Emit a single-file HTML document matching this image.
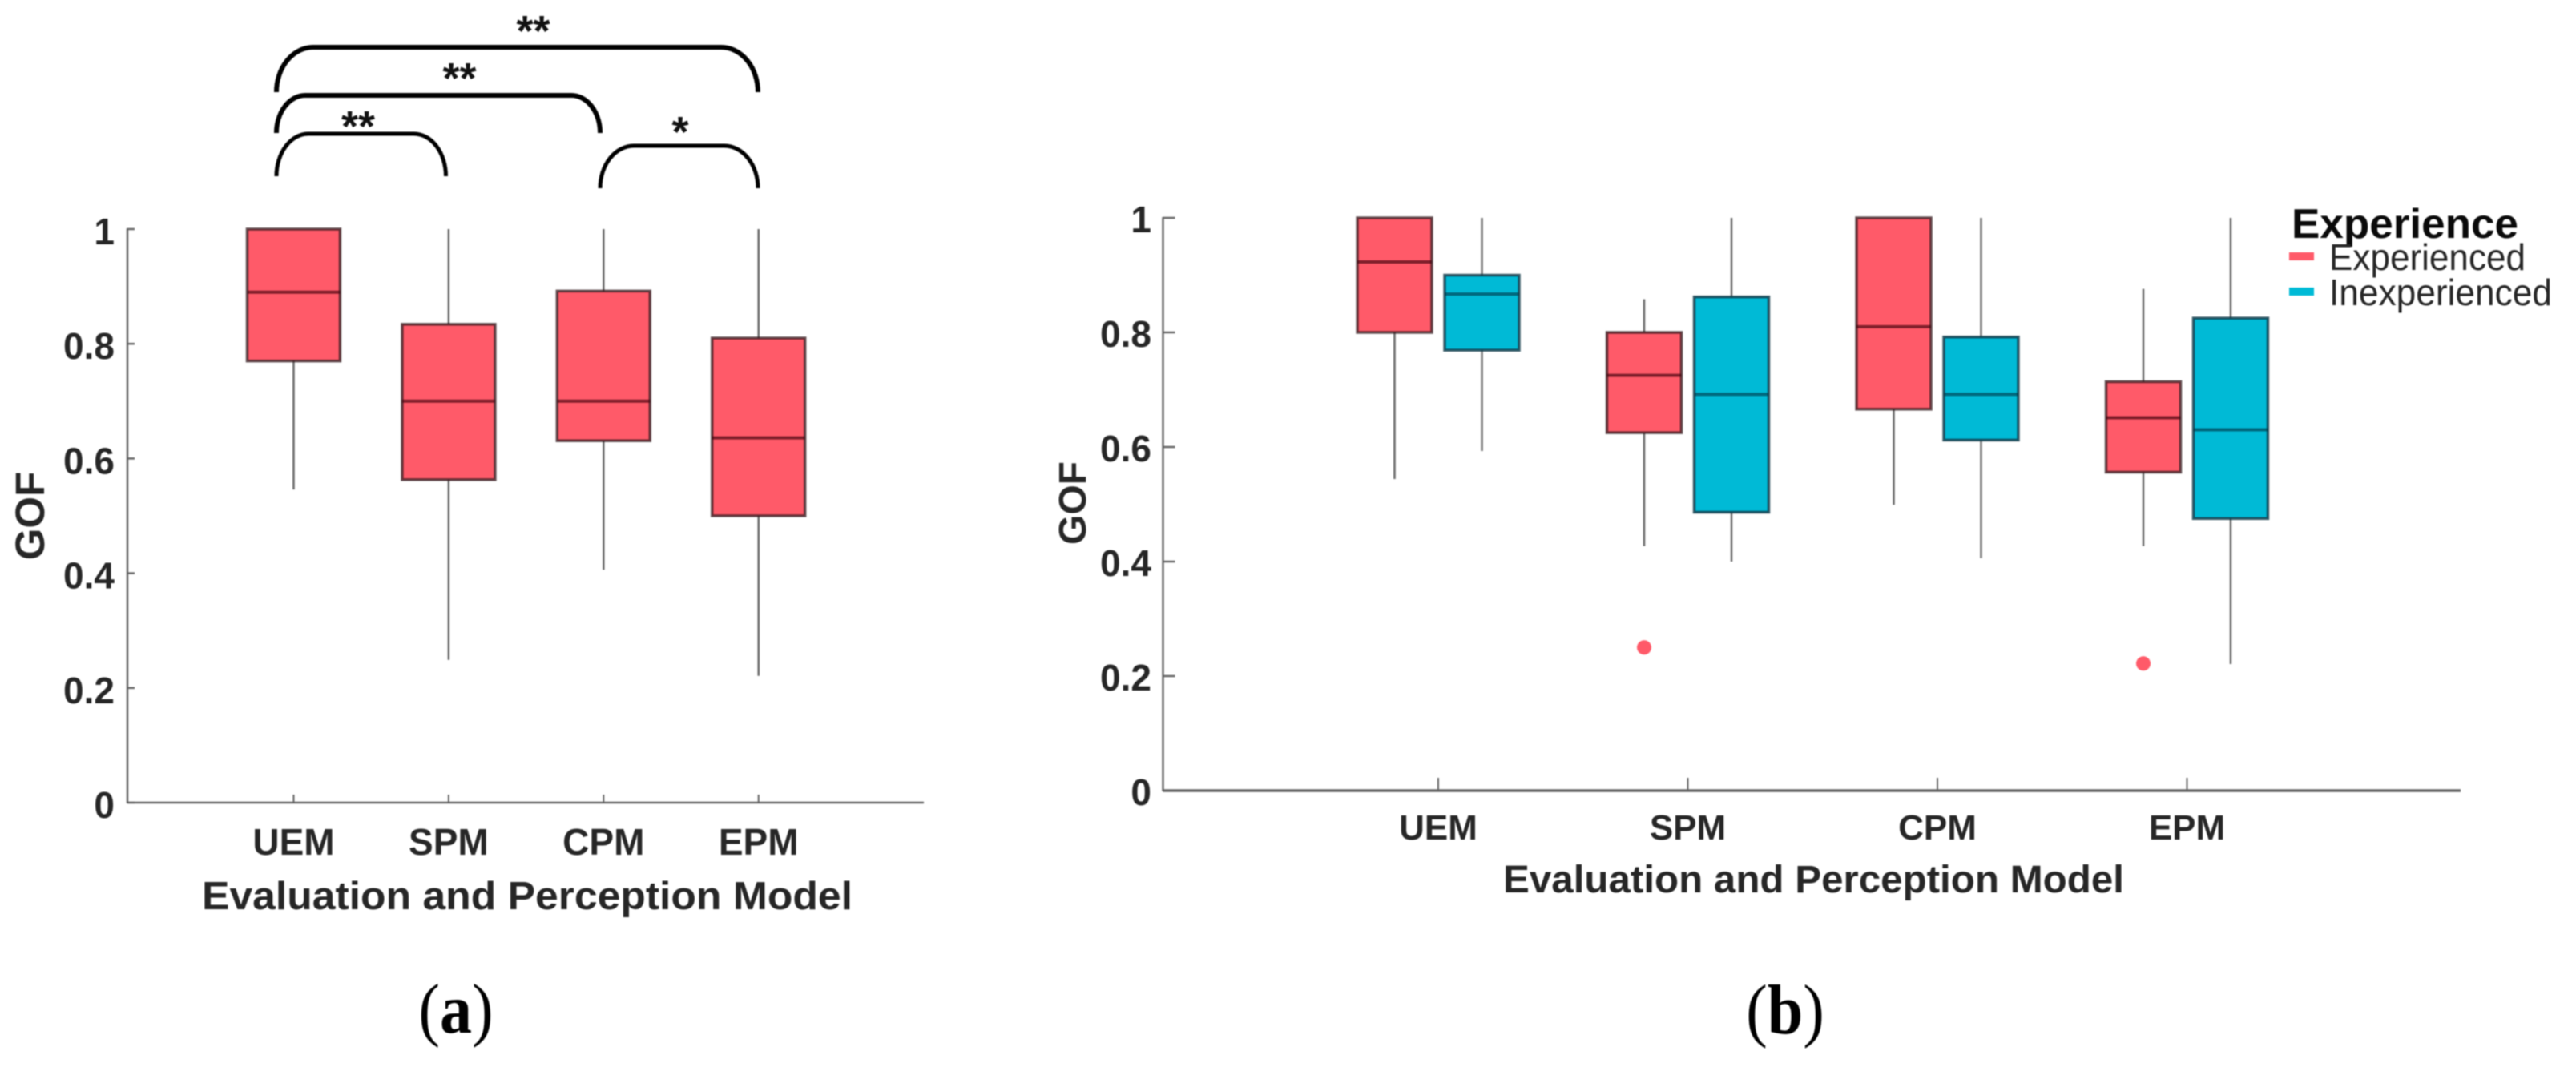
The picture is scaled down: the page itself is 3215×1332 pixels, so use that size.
<!DOCTYPE html>
<html lang="en">
<head>
<meta charset="utf-8">
<title>GOF by Evaluation and Perception Model</title>
<style>
html,body{margin:0;padding:0;background:#fff;width:3215px;height:1332px;overflow:hidden}
svg{display:block;filter:blur(0.7px)}
text{font-family:"Liberation Sans",Arial,sans-serif;fill:#262626}
.tick{font-size:46px;font-weight:700}
.title{font-weight:700}
.star{font-size:54px;font-weight:700;fill:#111;text-anchor:middle}
.cap{font-family:"Liberation Serif",serif;fill:#000;font-size:80px;text-anchor:middle}
.bracket{fill:none;stroke:#000}
</style>
</head>
<body>
<svg id="figure" xmlns="http://www.w3.org/2000/svg" width="3215" height="1332" viewBox="0 0 3215 1332">
  <rect width="3215" height="1332" fill="#fff"/>

  <g id="panel-a">
    <g>
      <path class="bracket" stroke-width="5" d="M345 220 A40 53 0 0 1 385 167 L516 167 A40 53 0 0 1 556.5 220"/>
      <path class="bracket" stroke-width="6" d="M345 166 A36 47 0 0 1 381 119 L713 119 A36 47 0 0 1 749 166"/>
      <path class="bracket" stroke-width="6" d="M345 115 A46 56 0 0 1 391 59 L900 59 A46 56 0 0 1 946 115"/>
      <path class="bracket" stroke-width="5" d="M749 235 A42 53 0 0 1 791 182 L904 182 A42 53 0 0 1 946 235"/>
      <text class="star" x="665.5" y="57">**</text>
      <text class="star" x="573.5" y="116">**</text>
      <text class="star" x="447" y="176">**</text>
      <text class="star" x="849" y="183">*</text>
    </g>
    <text class="title" font-size="51" text-anchor="middle" transform="translate(55 644) rotate(-90)">GOF</text>
    <text class="title" font-size="49" x="252" y="1135" textLength="812" lengthAdjust="spacingAndGlyphs">Evaluation and Perception Model</text>
    <text class="cap" transform="translate(569 1289) scale(1 1.1)">(<tspan font-weight="700">a</tspan>)</text>
  </g>

  <g id="panel-b">
    <text class="title" font-size="48" text-anchor="middle" transform="translate(1355 628) rotate(-90)">GOF</text>
    <text class="title" font-size="48" x="1876" y="1114" textLength="775" lengthAdjust="spacingAndGlyphs">Evaluation and Perception Model</text>
    <text class="cap" transform="translate(2228 1290) scale(1 1.1)">(<tspan font-weight="700">b</tspan>)</text>
    <g>
      <text class="title" font-size="52" x="2860" y="297" textLength="283" lengthAdjust="spacingAndGlyphs" style="fill:#0a0a0a">Experience</text>
      <rect x="2857" y="315" width="31" height="10" fill="#FF5A69"/>
      <text font-size="46" x="2907" y="337" textLength="245" lengthAdjust="spacingAndGlyphs">Experienced</text>
      <rect x="2857" y="359" width="31" height="10" fill="#00BAD6"/>
      <text font-size="46" x="2907" y="381" textLength="278" lengthAdjust="spacingAndGlyphs">Inexperienced</text>
    </g>
  </g>
</svg>
<script>
// Shared axis labels
const categories = ['UEM', 'SPM', 'CPM', 'EPM'];
const yTickValues = [0, 0.2, 0.4, 0.6, 0.8, 1];
const yTickLabels = ['0', '0.2', '0.4', '0.6', '0.8', '1'];

// Panel (a): all participants
const allLow = [0.546, 0.249, 0.406, 0.221];
const allQ1 = [0.77, 0.563, 0.631, 0.5];
const allMedian = [0.89, 0.70, 0.70, 0.636];
const allQ3 = [1.0, 0.834, 0.892, 0.81];
const allHigh = [1.0, 1.0, 1.0, 1.0];

// Panel (b): experienced group
const expLow = [0.544, 0.427, 0.499, 0.427];
const expQ1 = [0.80, 0.625, 0.666, 0.556];
const expMedian = [0.923, 0.725, 0.81, 0.651];
const expQ3 = [1.0, 0.80, 1.0, 0.714];
const expHigh = [1.0, 0.858, 1.0, 0.876];
const expOutliers = [null, 0.25, null, 0.222];

// Panel (b): inexperienced group
const inexpLow = [0.593, 0.40, 0.406, 0.221];
const inexpQ1 = [0.769, 0.486, 0.612, 0.475];
const inexpMedian = [0.867, 0.692, 0.692, 0.63];
const inexpQ3 = [0.90, 0.862, 0.792, 0.825];
const inexpHigh = [1.0, 1.0, 1.0, 1.0];

const SVGNS = 'http://www.w3.org/2000/svg';
const RED = '#FF5A69';
const CYAN = '#00BAD6';

function add(parent, tag, attrs, text) {
  const el = document.createElementNS(SVGNS, tag);
  for (const k in attrs) el.setAttribute(k, attrs[k]);
  if (text !== undefined) el.textContent = text;
  parent.appendChild(el);
  return el;
}

// Axis functions
function yA(v) { return 1002 - v * 716; }
function xA(i) { return 366.5 + i * 193.4; }
function yB(v) { return 987 - v * 715; }
function xB(i) { return 1795 + i * 311.5; }

function drawAxes(panel, prefix, y, x, o) {
  const axes = add(panel, 'g', {});
  
  
  const yLine = add(axes, 'line', { x1: o.left, x2: o.left, y1: y(1) - 1, y2: y(0) + 1, stroke: '#666', 'stroke-width': 2.5 });
  
  
  const xLine = add(axes, 'line', { x1: o.left, x2: o.right, y1: y(0), y2: y(0), stroke: '#666', 'stroke-width': o.xw });
  
  
  yTickValues.forEach((v, i) => {
    const t = add(axes, 'line', { x1: o.left, x2: o.left + o.yLen, y1: y(v), y2: y(v), stroke: '#666', 'stroke-width': 2.5 });
    
    
    const l = add(axes, 'text', { class: 'tick', x: o.labelRight, y: y(v) + o.dy, 'text-anchor': 'end' }, yTickLabels[i]);
    
    
  });
  categories.forEach((c, i) => {
    const t = add(axes, 'line', { x1: x(i), x2: x(i), y1: y(0), y2: y(0) - o.xLen, stroke: '#666', 'stroke-width': 2 });
    
    
    const l = add(axes, 'text', { class: 'tick', x: x(i), y: o.catY, 'text-anchor': 'middle', 'font-size': o.catSize, style: 'font-size:' + o.catSize + 'px' }, c);
    
    
  });
}

function drawBox(panel, name, cx, w, y, low, q1, med, q3, high, fill, edge, medEdge) {
  const g = add(panel, 'g', {});
  
  
  const wl = add(g, 'line', { x1: cx, x2: cx, y1: y(q1), y2: y(low), stroke: '#6a6a6a', 'stroke-width': 2.5 });
  
  
  const wh = add(g, 'line', { x1: cx, x2: cx, y1: y(q3), y2: y(high), stroke: '#6a6a6a', 'stroke-width': 2.5 });
  
  
  const r = add(g, 'rect', { x: cx - w / 2, y: y(q3), width: w, height: y(q1) - y(q3), fill: fill, stroke: edge, 'stroke-width': 3.5 });
  
  
  const m = add(g, 'line', { x1: cx - w / 2, x2: cx + w / 2, y1: y(med), y2: y(med), stroke: medEdge, 'stroke-width': 4 });
  
  
}

const panelA = document.getElementById('panel-a');
const panelB = document.getElementById('panel-b');

drawAxes(panelA, 'a', yA, xA, { left: 159, right: 1153, xw: 2.5, yLen: 9, xLen: 10, labelRight: 143, dy: 19, catY: 1067, catSize: 46 });
drawAxes(panelB, 'b', yB, xB, { left: 1451.5, right: 3071, xw: 3.5, yLen: 15, xLen: 16, labelRight: 1437, dy: 18, catY: 1048, catSize: 44 });

categories.forEach((c, i) => {
  drawBox(panelA, 'box-' + c.toLowerCase(), xA(i), 116, yA,
    allLow[i], allQ1[i], allMedian[i], allQ3[i], allHigh[i], RED, 'rgba(50,25,30,.75)', 'rgba(60,0,10,.65)');
  drawBox(panelB, 'box-experienced-' + c.toLowerCase(), xB(i) - 54.5, 93, yB,
    expLow[i], expQ1[i], expMedian[i], expQ3[i], expHigh[i], RED, 'rgba(50,25,30,.75)', 'rgba(60,0,10,.65)');
  drawBox(panelB, 'box-inexperienced-' + c.toLowerCase(), xB(i) + 54.5, 93, yB,
    inexpLow[i], inexpQ1[i], inexpMedian[i], inexpQ3[i], inexpHigh[i], CYAN, 'rgba(15,55,70,.8)', 'rgba(0,50,65,.6)');
  if (expOutliers[i] !== null) {
    const p = add(panelB, 'circle', { cx: xB(i) - 54.5, cy: yB(expOutliers[i]), r: 9, fill: RED });
    
    
  }
});
</script>
</body>
</html>
